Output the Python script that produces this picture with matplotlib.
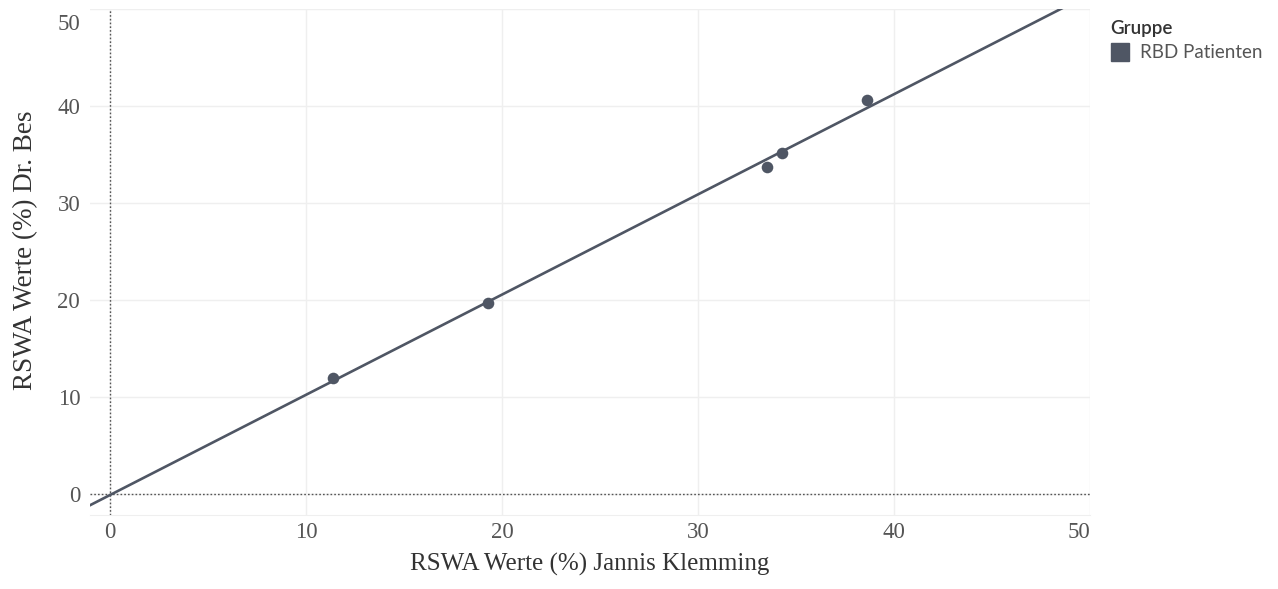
import numpy as np
import matplotlib
matplotlib.use('Agg')
import matplotlib.pyplot as plt
import matplotlib.transforms as mtrans
from matplotlib.patches import Patch

# RSWA values (%)
jannis = [11.4, 19.3, 33.5, 34.3, 38.6]
dr_bes = [11.9, 19.7, 33.7, 35.1, 40.6]
ticks = [0, 10, 20, 30, 40, 50]
group_name = 'RBD Patienten'

col = '#4f5664'
txt = '#555555'

fig = plt.figure(figsize=(12.78, 5.89), dpi=100)
ax = fig.add_axes([0.0704, 0.1256, 0.7826, 0.8594])

# linear trend line through the points
slope, icpt = np.polyfit(jannis, dr_bes, 1)
xs = np.array([-1.02, 50.0])
ax.plot(xs, slope * xs + icpt, color=col, lw=1.9, zorder=3)
ax.scatter(jannis, dr_bes, s=70, color=col, zorder=4, linewidths=0)

ax.axhline(0, color='#555555', lw=1.0, ls=(0, (1.2, 1.5)), zorder=2)
ax.axvline(0, color='#555555', lw=1.0, ls=(0, (1.2, 1.5)), zorder=2)

ax.set_xlim(-1.02, 50)
ax.set_ylim(-2.2, 50)
ax.set_xticks(ticks)
ax.set_yticks(ticks)
ax.grid(True, color='#efefef', lw=1.0, zorder=0)
for s in ['top', 'right', 'left']:
    ax.spines[s].set_visible(False)
ax.spines['bottom'].set_color('#efefef')
ax.tick_params(length=0, labelsize=16.5, labelcolor=txt)
ax.tick_params(axis='x', pad=5)
ax.tick_params(axis='y', pad=7)
for lab in ax.get_xticklabels() + ax.get_yticklabels():
    lab.set_fontfamily('Liberation Serif')
ax.get_xticklabels()[-1].set_horizontalalignment('right')
top_lab = ax.get_yticklabels()[-1]
top_lab.set_verticalalignment('top')
top_lab.set_transform(top_lab.get_transform() +
                      mtrans.ScaledTranslation(0, -0.05, fig.dpi_scale_trans))

ax.set_xlabel('RSWA Werte (%) Jannis Klemming', fontsize=18, family='Liberation Serif',
              color='#333333', labelpad=7)
ax.set_ylabel('RSWA Werte (%) Dr. Bes', fontsize=19.5, family='Liberation Serif',
              color='#333333')
ax.yaxis.set_label_coords(-0.052, 0.524)

leg = fig.legend(handles=[Patch(facecolor=col, edgecolor=col, label=group_name)],
                 title='Gruppe', loc='upper left', bbox_to_anchor=(0.869, 0.966),
                 frameon=False, prop={'family': 'Lato', 'size': 13.5},
                 handlelength=1.0, handleheight=1.1, handletextpad=0.55,
                 borderaxespad=0, borderpad=0, labelspacing=0.3)
leg.get_title().set_fontfamily('Lato')
leg.get_title().set_fontsize(13.5)
leg.get_title().set_fontweight('semibold')
leg.get_title().set_color('#333333')
leg._legend_box.align = 'left'
for t in leg.get_texts():
    t.set_color('#555555')

fig.savefig('out.png', dpi=100)
